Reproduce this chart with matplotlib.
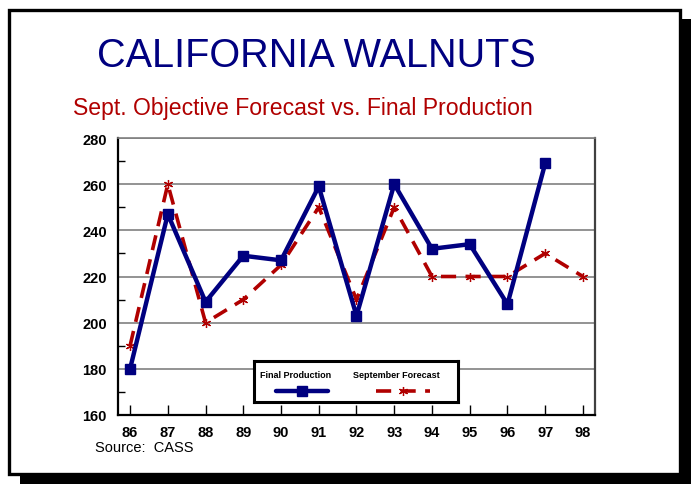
import matplotlib
matplotlib.use("Agg")
import matplotlib.pyplot as plt
from matplotlib.patches import Rectangle
from matplotlib.lines import Line2D

years = ["86", "87", "88", "89", "90", "91", "92", "93", "94", "95", "96", "97", "98"]
final_production = [180, 247, 209, 229, 227, 259, 203, 260, 232, 234, 208, 269]
sept_forecast = [190, 260, 200, 210, 225, 250, 210, 250, 220, 220, 220, 230, 220]
y_ticks = [160, 180, 200, 220, 240, 260, 280]

W, H = 691, 485
fig = plt.figure(figsize=(W / 100, H / 100), dpi=100)
fig.patch.set_facecolor("white")

def fx(px):
    return px / W

def fy(py):
    return 1 - py / H

NAVY = "#000080"
RED = "#B00000"
FONT = ["Liberation Sans", "DejaVu Sans"]

# shadow and frame
fig.patches.append(Rectangle((fx(20), fy(485)), fx(671), fy(20) - fy(485),
                             transform=fig.transFigure, facecolor="black", edgecolor="none", zorder=0))
fig.patches.append(Rectangle((fx(8.5), fy(475)), fx(671.5), fy(11) - fy(475),
                             transform=fig.transFigure, facecolor="white", edgecolor="black",
                             linewidth=2.4, zorder=1))

# titles
fig.text(fx(316), fy(67), "CALIFORNIA WALNUTS", color=NAVY, fontsize=28.5,
         family=FONT, ha="center", va="baseline", zorder=3)
fig.text(fx(73), fy(115), "Sept. Objective Forecast vs. Final Production", color=RED,
         fontsize=16.6, family=FONT, ha="left", va="baseline", zorder=3)
fig.text(fx(95), fy(452), "Source:  CASS", color="black", fontsize=10.5,
         family=FONT, ha="left", va="baseline", zorder=3)

# main axes
left, right, top, bottom = 118, 595, 139, 416
ax = fig.add_axes([fx(left), fy(bottom), fx(right - left), fy(top) - fy(bottom)], zorder=2)
x = list(range(len(years)))
ax.set_xlim(-0.32, len(years) - 1 + 0.32)
ax.set_ylim(160, 280)
ax.set_facecolor("white")

ax.set_yticks(y_ticks)
ax.set_yticks([170, 190, 210, 230, 250, 270], minor=True)
ax.yaxis.grid(True, which="major", color="#808080", linewidth=1.2)
ax.set_axisbelow(True)
ax.tick_params(axis="y", which="major", length=0, pad=8, labelsize=10.5)
ax.tick_params(axis="y", which="minor", direction="in", length=5, width=1)
ax.set_xticks(x)
ax.set_xticklabels(years)
ax.tick_params(axis="x", direction="in", length=7, width=1, pad=7, labelsize=10.5)
for lab in ax.get_xticklabels() + ax.get_yticklabels():
    lab.set_family(FONT)
    lab.set_fontweight("bold")

for side in ["left", "bottom"]:
    ax.spines[side].set_linewidth(1.6)
    ax.spines[side].set_color("black")
ax.spines["right"].set_linewidth(1.6)
ax.spines["right"].set_color("#404040")
ax.spines["top"].set_linewidth(1.2)
ax.spines["top"].set_color("#808080")

STAR = (6, 2, 0)
ax.plot(x[:len(sept_forecast)], sept_forecast, color=RED, linewidth=2.6,
        linestyle=(0, (4.2, 2.6)), marker=STAR, markersize=6.5, markeredgewidth=0.9,
        markeredgecolor=RED, zorder=3)
ax.plot(x[:len(final_production)], final_production, color=NAVY, linewidth=3.2,
        marker="s", markersize=7.5, markerfacecolor=NAVY, markeredgecolor=NAVY, zorder=4)

# legend box
lax = fig.add_axes([fx(254), fy(403), fx(458 - 254), fy(362) - fy(403)], zorder=5)
lax.set_xlim(254, 458)
lax.set_ylim(403, 362)
lax.set_xticks([])
lax.set_yticks([])
lax.set_facecolor("white")
for s in lax.spines.values():
    s.set_linewidth(2.2)
    s.set_color("black")
lax.text(296, 376, "Final Production", ha="center", va="center", fontsize=6.5,
         family=FONT, fontweight="bold")
lax.text(396, 376, "September Forecast", ha="center", va="center", fontsize=6.5,
         family=FONT, fontweight="bold")
lax.add_line(Line2D([276, 302, 328], [392, 392, 392], color=NAVY, linewidth=3.2,
                    marker="s", markersize=7.5, markevery=[1], solid_capstyle="round"))
lax.add_line(Line2D([376, 403, 430], [392, 392, 392], color=RED, linewidth=2.6,
                    linestyle=(0, (4.2, 2.6)), marker=STAR, markersize=6.5, markevery=[1],
                    markeredgewidth=0.9))

fig.savefig("out.png", dpi=100, facecolor="white")
